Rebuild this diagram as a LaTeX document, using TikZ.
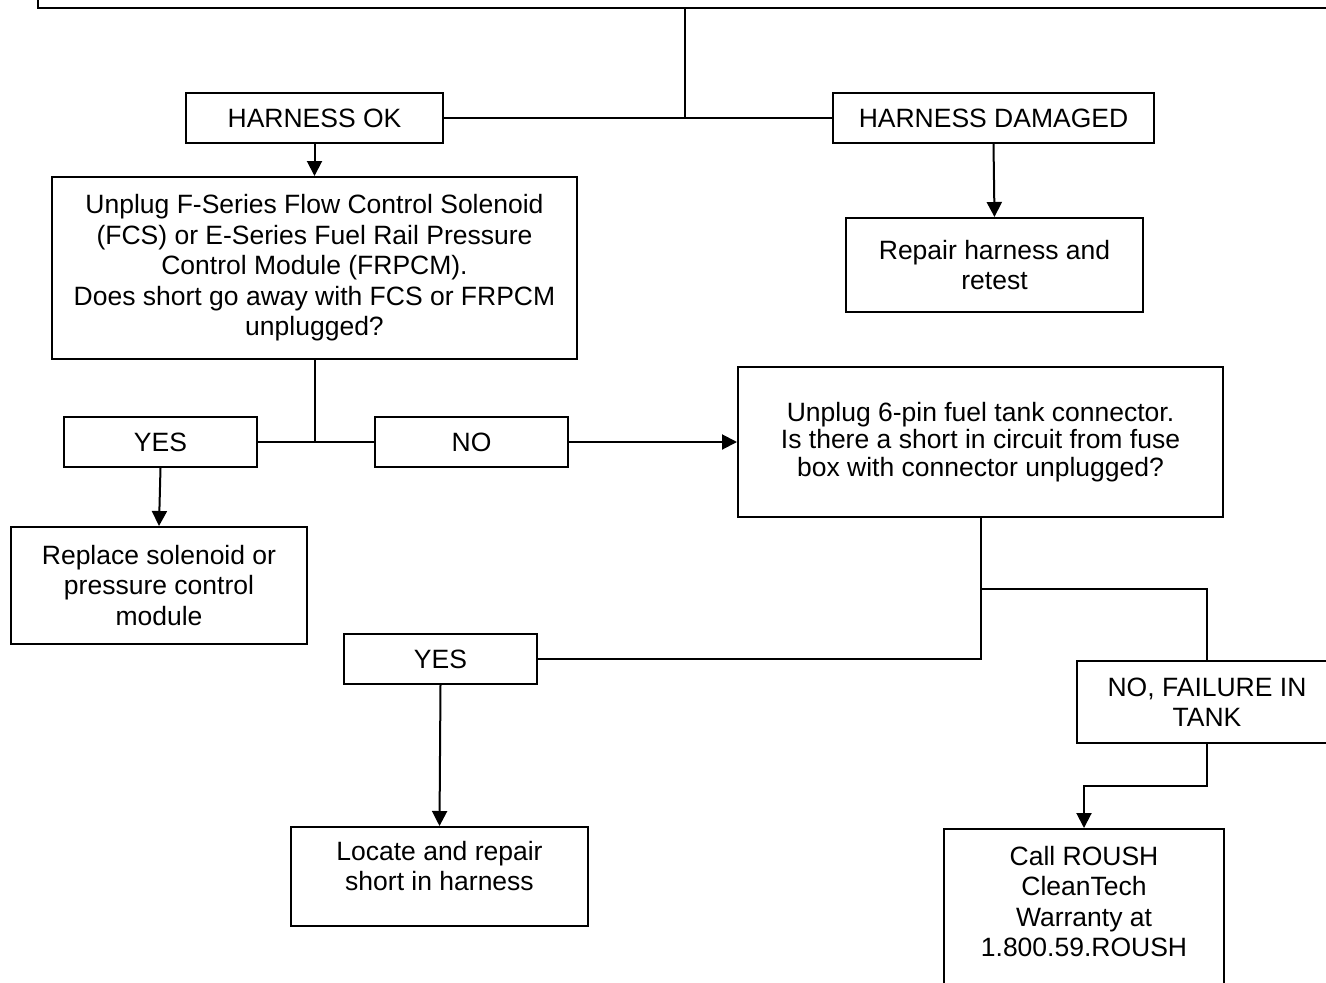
\documentclass[tikz,border=0pt]{standalone}
\usepackage{fontspec}
\setmainfont{Liberation Sans}
\usetikzlibrary{arrows.meta}

\tikzset{
  box/.style={draw, line width=2pt, align=center, inner sep=0pt, font=\fontsize{26.5}{30.5}\selectfont},
  link/.style={line width=2pt},
  arr/.style={line width=2pt, -{Triangle[length=15pt,width=15pt]}}
}

\begin{document}
\begin{tikzpicture}[x=1pt, y=-1pt]
\useasboundingbox (0,0) rectangle (1326,983);
\clip (0,0) rectangle (1326,983);

\node[box, minimum width=1400pt, minimum height=60pt, anchor=south west] (top) at (37,9) {};

\node[box, minimum width=257pt, minimum height=50pt] (hok) at (314.5,118) {HARNESS OK};
\node[box, minimum width=321pt, minimum height=50pt] (hdam) at (993.5,118) {HARNESS DAMAGED};
\node[box, minimum width=525pt, minimum height=182pt] (fcs) at (314.5,268) {Unplug F-Series Flow Control Solenoid\\(FCS) or E-Series Fuel Rail Pressure\\Control Module (FRPCM).\\Does short go away with FCS or FRPCM\\unplugged?};
\node[box, minimum width=297pt, minimum height=94pt] (rep) at (994.5,265) {Repair harness and\\retest};

\node[box, minimum width=193pt, minimum height=50pt] (yes1) at (160.5,442) {YES};
\node[box, minimum width=193pt, minimum height=50pt] (no1) at (471.5,442) {NO};
\node[box, minimum width=485pt, minimum height=150pt, font=\fontsize{26.5}{27.5}\selectfont] (tank) at (980.5,442) {Unplug 6-pin fuel tank connector.\\Is there a short in circuit from fuse\\box with connector unplugged?};
\node[box, minimum width=296pt, minimum height=117pt] (repl) at (159,585.5) {Replace solenoid or\\pressure control\\module};

\node[box, minimum width=193pt, minimum height=50pt] (yes2) at (440.5,659) {YES};
\node[box, minimum width=260pt, minimum height=82pt] (nof) at (1207,702) {NO, FAILURE IN\\TANK};
\node[box, minimum width=297pt, inner ysep=14pt, text depth=21.5pt, anchor=north] (loc) at (439.5,826) {Locate and repair\\short in harness};
\node[box, minimum width=280pt, inner ysep=17pt, text depth=200pt, anchor=north] (call) at (1084,828) {Call ROUSH\\CleanTech\\Warranty at\\1.800.59.ROUSH};

\coordinate (j1) at (685,118);
\coordinate (j2) at (981,589);

\draw[link] (top.south -| j1) -- (j1);
\draw[link] (hok.east) -- (hdam.west);
\draw[arr] (hok.south) -- (fcs.north);
\draw[arr] (hdam.south) -- (rep.north);

\draw[link] (fcs.south) -- (fcs.south |- yes1.east);
\draw[link] (yes1.east) -- (no1.west);
\draw[arr] (no1.east) -- (tank.west);
\draw[arr] (yes1.south) -- (repl.north);

\draw[link] (tank.south) |- (yes2.east);
\draw[link] (tank.south |- j2) -| (nof.north);
\draw[arr] (yes2.south) -- (loc.north);
\draw[arr] (nof.south) -- ++(0,42) -| (call.north);
\end{tikzpicture}
\end{document}
